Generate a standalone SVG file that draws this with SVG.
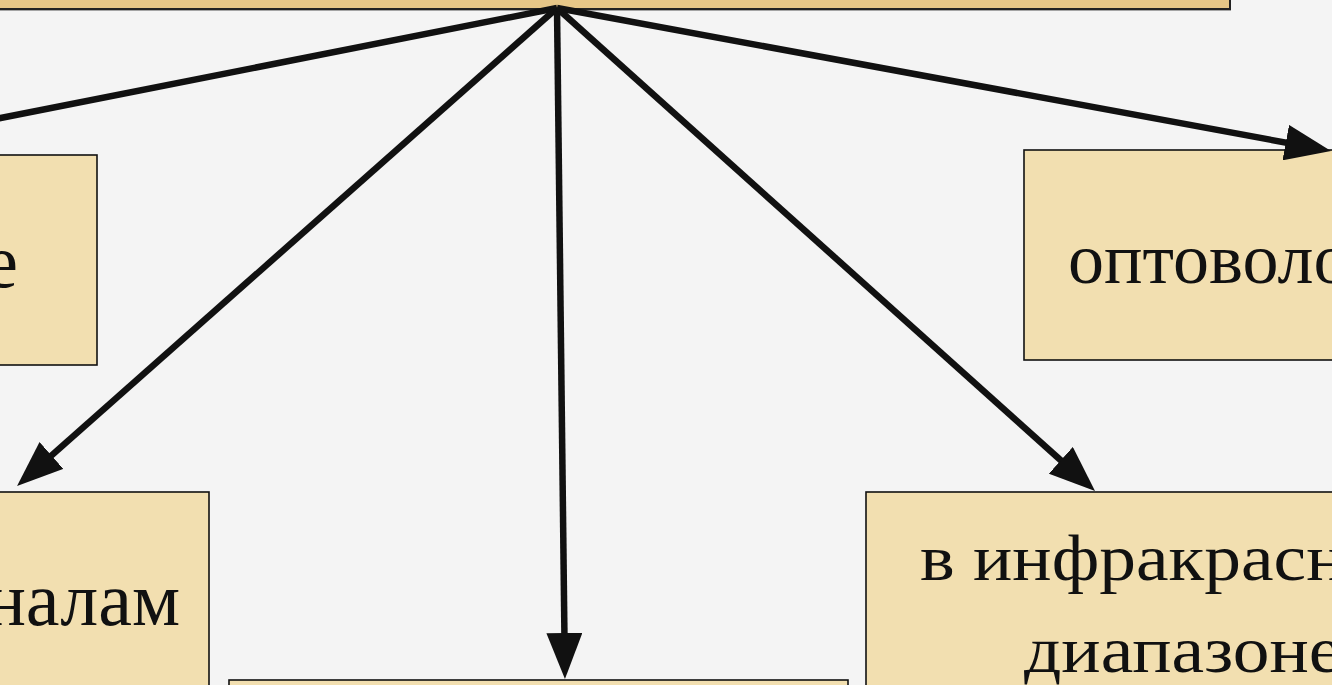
<svg xmlns="http://www.w3.org/2000/svg" width="1332" height="685" viewBox="0 0 1332 685">
<style>
.box{fill:#f2dfb0;stroke:#111;stroke-width:1.6}
.top{fill:#e6c687;stroke:#222;stroke-width:2}
.t{font-family:"Liberation Serif","Times New Roman",serif;fill:#111}
.c{stroke:#111;stroke-width:6.5;fill:none}
</style>
<defs>
<marker id="ah" markerUnits="userSpaceOnUse" viewBox="0 0 46 36" refX="16" refY="18" markerWidth="46" markerHeight="36" orient="auto">
<path d="M0,0 L46,18 L0,36 Z" fill="#111"/>
</marker>
</defs>
<rect width="1332" height="685" fill="#f4f4f4"/>
<g id="node-top">
<rect x="-5" y="-30" width="1235" height="39" fill="#555" transform="translate(1,1.5)"/>
<rect class="top" x="-5" y="-30" width="1235" height="39"/>
</g>
<g id="node-left1">
<rect class="box" x="-5" y="155" width="102" height="210"/>
<text class="t" x="18" y="287" font-size="76" text-anchor="end">е</text>
</g>
<g id="node-right1">
<rect class="box" x="1024" y="150" width="320" height="210"/>
<text class="t" x="1068" y="283" font-size="72">оптоволо</text>
</g>
<g id="node-left2">
<rect class="box" x="-5" y="492" width="214" height="200"/>
<text class="t" x="180" y="625" font-size="76" text-anchor="end">налам</text>
</g>
<g id="node-bottom">
<rect class="box" x="229" y="680" width="619" height="20"/>
</g>
<g id="node-right2">
<rect class="box" x="866" y="492" width="480" height="200"/>
<text class="t" font-size="65" transform="translate(920,580) scale(1.13,1)">в инфракрасн</text>
<text class="t" font-size="65" transform="translate(1024,672) scale(1.13,1)">диапазоне</text>
</g>
<g id="connectors">
<line class="c" x1="557" y1="8" x2="-60" y2="130"/>
<line class="c" x1="557" y1="8" x2="39.5" y2="466.1" marker-end="url(#ah)"/>
<line class="c" x1="557" y1="8" x2="564.6" y2="649" marker-end="url(#ah)"/>
<line class="c" x1="557" y1="8" x2="1072.7" y2="471" marker-end="url(#ah)"/>
<line class="c" x1="557" y1="8" x2="1301.5" y2="145.5" marker-end="url(#ah)"/>
</g>
</svg>
